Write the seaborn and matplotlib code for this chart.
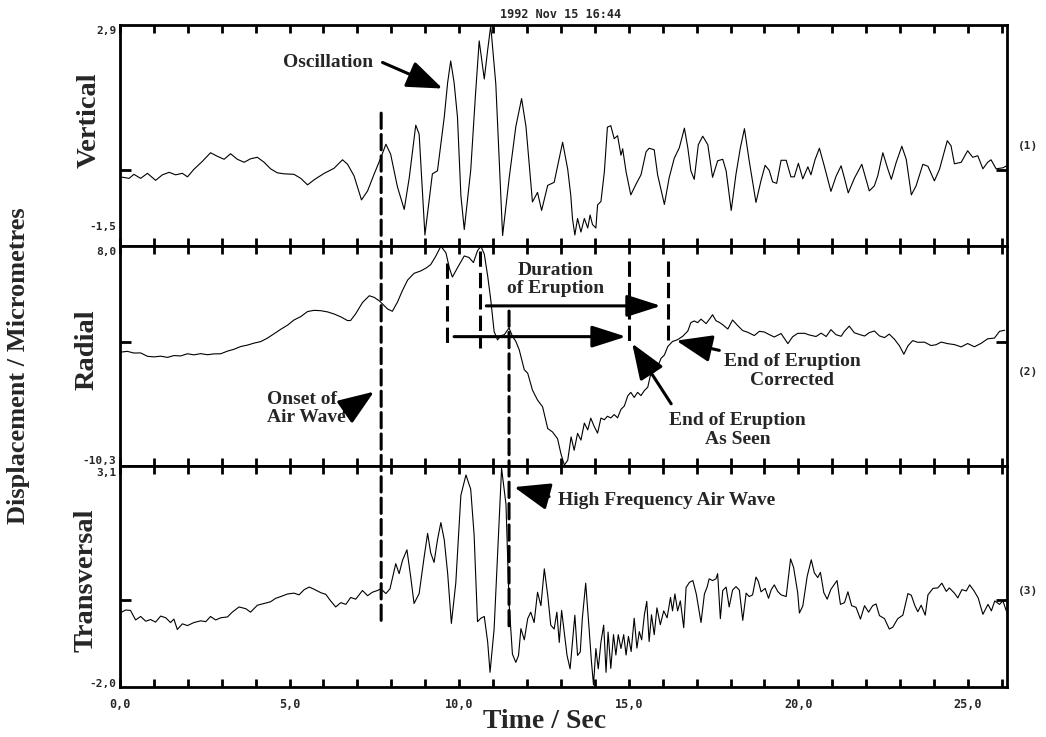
import numpy as np
import matplotlib
matplotlib.use('Agg')
import matplotlib.pyplot as plt
import seaborn as sns
from matplotlib.patches import ConnectionPatch

# ---- data (time in s, displacement in micrometres) ----
vertical = [
    (0.00,-0.13),(0.27,-0.16),(0.41,-0.08),(0.61,-0.16),(0.81,-0.06),(1.05,-0.20),(1.25,-0.09),
    (1.45,-0.04),(1.64,-0.09),(1.84,-0.06),(1.99,-0.13),(2.18,0.02),(2.43,0.18),(2.67,0.35),
    (2.87,0.28),(3.07,0.22),(3.26,0.33),(3.46,0.22),(3.66,0.16),(3.85,0.23),(4.05,0.26),
    (4.25,0.16),(4.44,0.03),(4.64,-0.05),(4.84,-0.07),(5.13,-0.08),(5.33,-0.16),(5.53,-0.29),
    (5.72,-0.19),(6.02,-0.06),(6.31,0.04),(6.56,0.21),(6.71,0.12),(6.90,-0.11),(7.12,-0.59),
    (7.30,-0.41),(7.49,-0.08),(7.69,0.25),(7.84,0.52),(7.98,0.32),(8.18,-0.33),(8.38,-0.78),
    (8.53,-0.14),(8.72,0.90),(8.82,0.72),(8.99,-1.29),(9.21,-0.07),(9.36,-0.01),(9.56,1.06),
    (9.66,1.75),(9.75,2.18),(9.85,1.75),(9.95,1.06),(10.05,-0.50),(10.15,-1.18),(10.34,0.00),
    (10.48,1.50),(10.59,2.58),(10.74,1.82),(10.84,2.40),(10.93,2.88),(11.08,1.72),(11.18,0.20),
    (11.28,-1.30),(11.48,-0.12),(11.67,0.87),(11.84,1.43),(11.97,0.87),(12.16,-0.63),(12.31,-0.44),
    (12.43,-0.80),(12.61,-0.30),(12.80,-0.24),(13.05,0.56),(13.20,0.02),(13.29,-0.50),(13.34,-0.96),
    (13.41,-1.29),(13.49,-0.96),(13.59,-1.23),(13.69,-0.96),(13.79,-1.15),(13.86,-0.89),(13.93,-1.08),
    (14.03,-1.15),(14.08,-0.69),(14.18,-0.62),(14.28,-0.03),(14.37,0.86),(14.47,0.89),(14.57,0.63),
    (14.67,0.69),(14.77,0.30),(14.82,0.43),(14.92,-0.03),(15.06,-0.49),(15.21,-0.28),(15.36,-0.09),
    (15.51,0.37),(15.60,0.44),(15.75,0.41),(15.85,-0.09),(16.05,-0.68),(16.19,-0.15),(16.34,0.24),
    (16.49,0.45),(16.64,0.84),(16.74,0.45),(16.83,-0.01),(16.93,-0.18),(17.05,0.51),(17.18,0.68),
    (17.33,0.51),(17.47,-0.14),(17.62,0.19),(17.77,0.22),(17.87,-0.01),(18.02,-0.80),(18.16,-0.08),
    (18.29,0.45),(18.41,0.83),(18.55,0.19),(18.75,-0.64),(18.90,-0.20),(19.02,0.10),(19.14,0.00),
    (19.24,-0.23),(19.36,-0.26),(19.49,0.20),(19.64,0.20),(19.78,-0.13),(19.88,-0.13),(20.00,0.14),
    (20.13,-0.17),(20.28,0.07),(20.37,-0.09),(20.49,0.21),(20.62,0.44),(20.77,0.07),(20.96,-0.42),
    (21.11,-0.12),(21.26,0.09),(21.36,-0.16),(21.47,-0.45),(21.65,-0.16),(21.87,0.12),(22.09,-0.41),
    (22.24,-0.31),(22.34,-0.11),(22.49,0.35),(22.64,0.02),(22.74,-0.18),(22.88,0.15),(23.05,0.48),
    (23.18,0.22),(23.33,-0.49),(23.47,-0.31),(23.67,0.12),(23.82,0.08),(24.01,-0.21),(24.16,0.02),
    (24.39,0.59),(24.50,0.49),(24.60,0.13),(24.80,0.16),(24.99,0.39),(25.14,0.26),(25.29,0.29),
    (25.44,0.03),(25.58,0.16),(25.68,0.21),(25.83,0.03),(26.03,0.05),(26.17,0.10),
]

radial = [
    (0.00,-0.84),(0.22,-0.77),(0.41,-0.91),(0.61,-0.90),(0.81,-1.18),(1.00,-1.23),(1.20,-1.17),
    (1.40,-1.27),(1.59,-1.12),(1.79,-1.15),(1.99,-0.97),(2.18,-1.06),(2.38,-0.96),(2.58,-1.05),
    (2.77,-0.98),(2.97,-0.97),(3.17,-0.75),(3.36,-0.60),(3.56,-0.37),(3.76,-0.25),(3.95,-0.09),
    (4.15,0.04),(4.35,0.33),(4.54,0.69),(4.74,1.06),(4.94,1.40),(5.13,1.83),(5.33,2.11),
    (5.53,2.53),(5.72,2.63),(5.92,2.60),(6.12,2.50),(6.31,2.33),(6.51,2.09),(6.71,1.78),
    (6.80,1.79),(6.95,2.35),(7.15,3.28),(7.35,3.84),(7.49,3.71),(7.64,3.43),(7.74,3.15),
    (7.89,2.74),(8.03,2.55),(8.18,3.31),(8.33,4.29),(8.48,5.14),(8.67,5.70),(8.87,5.90),
    (9.02,6.13),(9.16,6.42),(9.31,7.12),(9.46,7.95),(9.61,7.40),(9.71,6.15),(9.80,5.39),
    (9.95,6.16),(10.15,7.14),(10.29,7.01),(10.42,6.59),(10.54,7.57),(10.64,7.95),(10.74,7.30),
    (10.84,5.48),(10.93,3.53),(11.03,0.88),(11.13,0.18),(11.23,0.53),(11.33,0.61),(11.47,1.17),
    (11.57,0.48),(11.67,0.06),(11.77,-0.64),(11.92,-2.30),(12.02,-2.58),(12.16,-3.98),(12.31,-4.81),
    (12.46,-5.37),(12.61,-7.17),(12.75,-7.45),(12.90,-8.01),(13.00,-9.26),(13.10,-10.20),(13.20,-9.80),
    (13.30,-7.86),(13.39,-8.97),(13.49,-7.57),(13.59,-8.13),(13.69,-6.72),(13.79,-7.28),(13.88,-6.31),
    (13.98,-6.99),(14.08,-7.55),(14.18,-6.30),(14.28,-6.44),(14.37,-6.15),(14.47,-6.29),(14.57,-6.01),
    (14.67,-6.28),(14.77,-5.58),(14.87,-5.30),(14.97,-4.46),(15.06,-4.17),(15.16,-4.59),(15.26,-4.17),
    (15.36,-4.44),(15.46,-4.02),(15.56,-3.74),(15.65,-2.62),(15.75,-2.47),(15.85,-2.05),(15.95,-1.36),
    (16.05,-1.07),(16.15,-0.37),(16.29,0.05),(16.44,0.20),(16.59,0.48),(16.74,0.91),(16.83,1.61),
    (16.93,1.75),(17.03,1.61),(17.13,1.90),(17.28,1.53),(17.38,1.90),(17.47,2.27),(17.57,1.77),
    (17.67,1.63),(17.77,1.44),(17.92,1.08),(18.06,1.83),(18.21,1.37),(18.36,0.95),(18.50,0.82),
    (18.70,0.54),(18.85,0.89),(19.00,0.83),(19.14,0.62),(19.29,0.42),(19.49,0.71),(19.69,-0.13),
    (19.83,0.44),(19.98,0.72),(20.18,0.73),(20.32,0.59),(20.52,0.46),(20.67,0.74),(20.82,0.46),
    (20.96,1.03),(21.11,0.61),(21.26,0.48),(21.36,0.90),(21.50,1.32),(21.65,0.77),(21.80,0.63),
    (21.95,0.50),(22.09,0.78),(22.24,0.92),(22.39,0.51),(22.54,0.37),(22.68,0.66),(22.83,0.24),
    (22.98,-0.31),(23.11,-1.01),(23.23,-0.31),(23.37,0.12),(23.52,-0.02),(23.72,-0.01),(23.91,-0.29),
    (24.06,-0.22),(24.21,0.00),(24.40,-0.13),(24.60,-0.21),(24.80,-0.40),(24.99,-0.12),(25.19,-0.39),
    (25.39,-0.10),(25.58,0.27),(25.78,0.33),(25.93,0.89),(26.08,0.98),
]

transversal = [
    (0.00,-0.29),(0.17,-0.22),(0.31,-0.23),(0.46,-0.45),(0.61,-0.37),(0.76,-0.48),(0.90,-0.44),
    (1.05,-0.50),(1.20,-0.36),(1.35,-0.40),(1.49,-0.51),(1.59,-0.43),(1.69,-0.67),(1.84,-0.54),
    (1.99,-0.58),(2.18,-0.51),(2.38,-0.47),(2.53,-0.49),(2.67,-0.37),(2.82,-0.45),(2.97,-0.40),
    (3.17,-0.38),(3.31,-0.27),(3.51,-0.15),(3.71,-0.19),(3.85,-0.27),(4.05,-0.11),(4.25,-0.07),
    (4.44,-0.03),(4.59,0.05),(4.74,0.09),(4.94,0.15),(5.13,0.17),(5.28,0.13),(5.43,0.25),
    (5.58,0.31),(5.72,0.26),(5.92,0.18),(6.07,0.14),(6.21,-0.01),(6.36,-0.15),(6.51,-0.05),
    (6.66,-0.09),(6.80,0.07),(6.95,0.03),(7.15,0.23),(7.30,0.11),(7.44,0.19),(7.59,0.23),
    (7.69,0.27),(7.84,0.16),(7.96,0.27),(8.13,0.85),(8.23,0.62),(8.33,0.93),(8.46,1.17),
    (8.57,0.55),(8.67,-0.07),(8.82,0.16),(8.97,1.02),(9.07,1.55),(9.16,1.10),(9.26,0.88),
    (9.36,1.40),(9.46,1.80),(9.56,1.40),(9.66,0.63),(9.77,-0.53),(9.90,0.40),(10.05,2.43),
    (10.20,2.90),(10.34,2.57),(10.44,1.52),(10.54,-0.49),(10.64,-0.41),(10.74,-0.37),(10.84,-0.96),
    (10.91,-1.66),(11.03,-0.66),(11.13,1.04),(11.25,3.05),(11.38,2.22),(11.47,-0.05),(11.57,-1.24),
    (11.67,-1.43),(11.75,-1.27),(11.82,-0.65),(11.92,-0.91),(12.02,-0.42),(12.11,-0.27),(12.21,-0.51),
    (12.31,0.19),(12.41,-0.12),(12.51,0.73),(12.61,0.12),(12.70,-0.57),(12.80,-0.66),(12.88,-0.27),
    (12.95,-0.97),(13.02,-0.23),(13.10,-0.74),(13.18,-1.27),(13.27,-1.58),(13.34,-0.97),(13.41,-0.34),
    (13.49,-1.27),(13.57,-1.19),(13.63,-0.42),(13.73,0.40),(13.83,-0.65),(13.90,-1.42),(13.96,-1.95),
    (14.03,-1.11),(14.10,-1.58),(14.18,-0.96),(14.26,-0.57),(14.33,-1.66),(14.39,-0.73),(14.47,-1.57),
    (14.55,-0.79),(14.62,-1.26),(14.69,-0.79),(14.77,-1.11),(14.85,-0.79),(14.92,-1.26),(14.99,-0.83),
    (15.07,-1.18),(15.16,-0.41),(15.24,-1.10),(15.31,-0.72),(15.38,-0.91),(15.46,-0.33),(15.53,-0.02),
    (15.60,-0.95),(15.67,-0.33),(15.75,-0.79),(15.83,-0.17),(15.93,-0.56),(16.03,-0.24),(16.13,-0.40),
    (16.23,0.07),(16.29,-0.24),(16.36,0.15),(16.44,-0.24),(16.52,-0.01),(16.62,-0.63),(16.69,0.30),
    (16.79,0.42),(16.89,0.46),(16.99,0.15),(17.13,-0.51),(17.23,0.15),(17.31,0.31),(17.37,0.50),
    (17.47,0.46),(17.57,0.50),(17.62,0.62),(17.70,-0.42),(17.77,0.23),(17.87,0.31),(17.96,-0.15),
    (18.06,0.24),(18.16,0.32),(18.26,0.24),(18.36,-0.46),(18.46,0.17),(18.55,0.09),(18.65,0.13),
    (18.75,0.54),(18.82,0.44),(18.90,0.20),(19.02,0.28),(19.12,0.05),(19.20,0.25),(19.29,0.36),
    (19.39,0.21),(19.49,0.13),(19.64,0.09),(19.77,0.96),(19.86,0.76),(19.98,0.18),(20.03,-0.29),
    (20.13,-0.13),(20.26,0.56),(20.38,0.94),(20.47,0.64),(20.57,0.53),(20.65,0.65),(20.75,0.18),
    (20.85,0.03),(20.96,0.26),(21.14,0.46),(21.24,-0.09),(21.36,-0.05),(21.46,0.20),(21.57,-0.12),
    (21.70,-0.16),(21.83,-0.43),(21.95,-0.12),(22.07,-0.27),(22.19,-0.12),(22.29,-0.08),(22.39,-0.35),
    (22.54,-0.42),(22.68,-0.66),(22.78,-0.62),(22.93,-0.42),(23.08,-0.34),(23.23,0.16),(23.33,0.12),
    (23.43,-0.11),(23.52,-0.26),(23.62,-0.11),(23.74,-0.34),(23.82,0.13),(23.97,0.28),(24.11,0.29),
    (24.23,0.40),(24.36,0.21),(24.45,0.29),(24.60,0.17),(24.70,0.06),(24.82,0.25),(24.95,0.22),
    (25.05,0.36),(25.18,0.22),(25.30,0.06),(25.44,-0.32),(25.59,-0.09),(25.69,-0.24),(25.79,-0.01),
    (25.93,-0.09),(26.03,-0.01),(26.13,-0.24),
]

panel_names = ['Vertical', 'Radial', 'Transversal']
panel_tags = ['(1)', '(2)', '(3)']
y_limits = [(-1.5, 2.9), (-10.3, 8.0), (-2.0, 3.1)]
time_ticks = list(range(0, 27))

# marker lines: onset of air wave (panels 1-3) and high frequency air wave (panels 2-3)
onset_line = (7.70, 1.14, -0.58)
hf_line = (11.47, 2.57, -0.71)
# dashed markers inside radial panel: (time, top, bottom)
radial_markers = [(9.65, 6.54, -0.14), (10.61, 7.57, -0.53), (15.01, 6.73, -0.26), (16.15, 6.75, 0.19)]
# duration arrows inside radial panel: (start, end, level)
duration_arrows = [(10.80, 15.95, 3.0), (9.85, 14.92, 0.45)]

sns.set_style('white')
plt.rcParams['font.family'] = ['DejaVu Sans']

serif = dict(family='Liberation Serif', weight='bold')
mono = dict(family='DejaVu Sans Mono', weight='bold')

fig = plt.figure(figsize=(10.46, 7.37), dpi=100)
bottoms = [0.6668, 0.3673, 0.0678]
axes = [fig.add_axes([0.1147, b, 0.848, 0.2995]) for b in bottoms]

def comma(v):
    return f"{v:.1f}".replace('.', ',')

for ax, trace, lim in zip(axes, [vertical, radial, transversal], y_limits):
    t, v = zip(*trace)
    sns.lineplot(x=list(t), y=list(v), ax=ax, color='black', linewidth=0.8, sort=False, estimator=None)
    ax.set_xlim(0, 26.15)
    ax.set_ylim(*lim)
    ax.set_xlabel('')
    ax.set_ylabel('')
    for sp in ax.spines.values():
        sp.set_linewidth(2.0)
        sp.set_color('black')
    ax.set_xticks(time_ticks)
    ax.set_yticks([0])
    ax.set_yticklabels([])
    ax.tick_params(axis='x', direction='in', top=True, bottom=True, length=6, width=2, color='black')
    ax.tick_params(axis='y', direction='in', left=True, right=True, length=8, width=2, color='black')
    ax.set_xticklabels([])
    ax.text(-0.004, 0.97, comma(lim[1]), transform=ax.transAxes, ha='right', va='center', fontsize=8, **mono)

axes[0].text(-0.004, 0.086, comma(y_limits[0][0]), transform=axes[0].transAxes, ha='right', va='center', fontsize=8, **mono)
axes[1].text(-0.004, 0.023, comma(y_limits[1][0]), transform=axes[1].transAxes, ha='right', va='center', fontsize=8, **mono)
axes[2].text(-0.004, 0.014, comma(y_limits[2][0]), transform=axes[2].transAxes, ha='right', va='center', fontsize=8, **mono)

axes[2].set_xticklabels([comma(i) if i % 5 == 0 else '' for i in time_ticks], fontsize=8.5, **mono)
axes[2].tick_params(axis='x', pad=8)

ax1, ax2, ax3 = axes
dash = (0, (5, 2))

# long dashed lines crossing panels
for (tt, top, bot), a_top, a_bot in [(onset_line, ax1, ax3), (hf_line, ax2, ax3)]:
    con = ConnectionPatch(xyA=(tt, top), coordsA='data', axesA=a_top,
                          xyB=(tt, bot), coordsB='data', axesB=a_bot,
                          color='black', linewidth=2.2, linestyle=dash)
    fig.add_artist(con)

for tt, top, bot in radial_markers:
    ax2.plot([tt, tt], [top, bot], color='black', linewidth=2.2, linestyle=dash)

head = '-|>,head_length=1.0,head_width=0.32'
for start, end, lvl in duration_arrows:
    ax2.annotate('', xy=(end, lvl), xytext=(start, lvl),
                 arrowprops=dict(arrowstyle=head, mutation_scale=21, lw=2.2, color='black',
                                 shrinkA=0, shrinkB=0))

def pointer(ax, tail, tip):
    ax.annotate('', xy=tip, xytext=tail,
                arrowprops=dict(arrowstyle='-|>,head_length=1.0,head_width=0.38', mutation_scale=22,
                                lw=2.2, color='black', shrinkA=0, shrinkB=0))

ax1.text(6.14, 2.15, 'Oscillation', fontsize=14, ha='center', va='center', **serif)
pointer(ax1, (7.74, 2.15), (9.51, 1.63))

ax2.text(4.34, -5.48, 'Onset of\nAir Wave', fontsize=14, ha='left', va='center', linespacing=1.1, **serif)
pointer(ax2, (6.61, -5.82), (7.49, -4.11))

ax2.text(12.83, 5.2, 'Duration\nof Eruption', fontsize=14, ha='center', va='center', linespacing=1.1, **serif)

ax2.text(19.82, -2.39, 'End of Eruption\nCorrected', fontsize=14, ha='center', va='center', linespacing=1.1, **serif)
pointer(ax2, (17.67, -0.69), (16.40, 0.12))

ax2.text(18.20, -7.29, 'End of Eruption\nAs Seen', fontsize=14, ha='center', va='center', linespacing=1.1, **serif)
pointer(ax2, (16.25, -5.12), (15.10, -0.12))

ax3.text(12.9, 2.32, 'High Frequency Air Wave', fontsize=14, ha='left', va='center', **serif)
pointer(ax3, (12.65, 2.40), (11.62, 2.62))

# labels around the frame
W, H = 1046.0, 737.0
for name, tag, (lx, ly), ty in zip(panel_names, panel_tags, [(89, 120), (87, 350), (86, 580)], [146, 372, 591]):
    fig.text(lx / W, 1 - ly / H, name, rotation=90, ha='center', va='center', fontsize=20.5, **serif)
    fig.text(1028 / W, 1 - ty / H, tag, ha='center', va='center', fontsize=8, **mono)

fig.text(19 / W, 1 - 366 / H, 'Displacement / Micrometres', rotation=90, ha='center', va='center', fontsize=19, **serif)
fig.text(545 / W, 1 - 722 / H, 'Time / Sec', ha='center', va='center', fontsize=20, **serif)
fig.text(561 / W, 1 - 14 / H, '1992 Nov 15 16:44', ha='center', va='center', fontsize=8.5, **mono)

fig.savefig('out.png', dpi=100)
